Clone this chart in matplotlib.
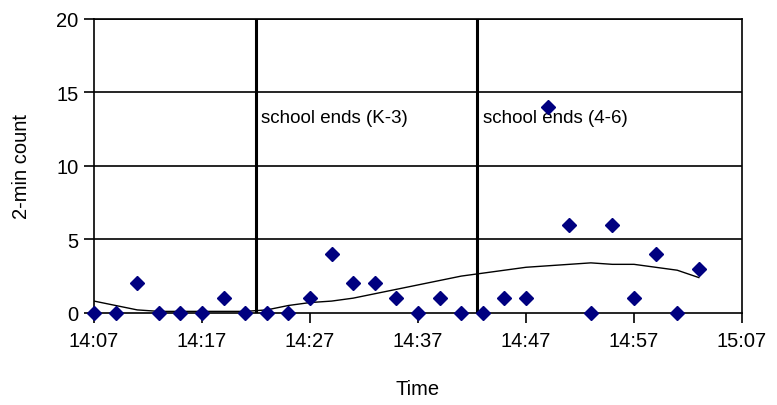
import numpy as np
import matplotlib
matplotlib.use("Agg")
import matplotlib.pyplot as plt

plt.rcParams['font.family'] = ['Liberation Sans', 'DejaVu Sans']

# minutes after 14:07, one sample every 2 minutes
minutes = [0, 2, 4, 6, 8, 10, 12, 14, 16, 18, 20, 22, 24, 26, 28,
           30, 32, 34, 36, 38, 40, 42, 44, 46, 48, 50, 52, 54, 56]
counts = [0, 0, 2, 0, 0, 0, 1, 0, 0, 0, 1, 4, 2, 2, 1,
          0, 1, 0, 0, 1, 1, 14, 6, 0, 6, 1, 4, 0, 3]
trend = [0.8, 0.5, 0.2, 0.1, 0.1, 0.1, 0.1, 0.1, 0.2, 0.5, 0.7, 0.8, 1.0, 1.3, 1.6,
         1.9, 2.2, 2.5, 2.7, 2.9, 3.1, 3.2, 3.3, 3.4, 3.3, 3.3, 3.1, 2.9, 2.4]

tick_minutes = [0, 10, 20, 30, 40, 50, 60]
tick_labels = ["14:07", "14:17", "14:27", "14:37", "14:47", "14:57", "15:07"]

events = [15, 35.5]
event_labels = ["school ends (K-3)", "school ends (4-6)"]

fig = plt.figure(figsize=(7.77, 4.06), dpi=100)
ax = fig.add_axes([0.121, 0.227, 0.834, 0.724])

for y in [5, 10, 15, 20]:
    ax.axhline(y, color='black', linewidth=1.2, zorder=1)

ax.plot(minutes, trend, color='black', linewidth=1.0, zorder=2)
ax.plot(minutes, counts, linestyle='none', marker='D', markersize=7,
        color='#000080', zorder=4, clip_on=False)

for x, lab in zip(events, event_labels):
    ax.axvline(x, color='black', linewidth=2.2, zorder=3)
    ax.text(x + 0.5, 13.3, lab, fontsize=13.5, color='black',
            va='center', ha='left', zorder=3)

ax.set_xlim(0, 60)
ax.set_ylim(0, 20)
ax.set_xticks(tick_minutes)
ax.set_xticklabels(tick_labels)
ax.set_yticks([0, 5, 10, 15, 20])
ax.tick_params(axis='both', labelsize=14.5, direction='out', length=7,
               width=1.2, colors='black', pad=4)
ax.tick_params(axis='x', pad=6)
for s in ax.spines.values():
    s.set_linewidth(1.2)
    s.set_color('black')

ax.set_xlabel("Time", fontsize=14.5, labelpad=21)
ax.set_ylabel("2-min count", fontsize=14.5, labelpad=18)

fig.savefig("out.png", dpi=100)
